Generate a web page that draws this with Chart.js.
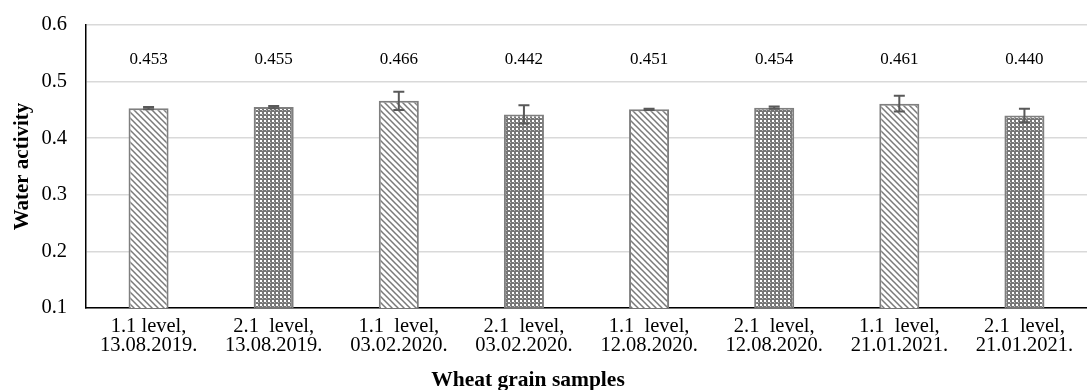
<!DOCTYPE html>
<html lang="en">
<head>
    <meta charset="UTF-8">
    <title>Water activity</title>
    <script src="https://cdn.jsdelivr.net/npm/chart.js"></script>
    <style>
        html, body { margin: 0; padding: 0; background: #fff; }
        #wrap { width: 1087px; height: 390px; }
    </style>
</head>
<body>
    <div id="wrap"><canvas id="waChart"></canvas></div>
    <script>
        // data
        const levels = ['1.1 level,', '2.1  level,', '1.1  level,', '2.1  level,', '1.1  level,', '2.1  level,', '1.1  level,', '2.1  level,'];
        const dates = ['13.08.2019.', '13.08.2019.', '03.02.2020.', '03.02.2020.', '12.08.2020.', '12.08.2020.', '21.01.2021.', '21.01.2021.'];
        const waterActivity = [0.453, 0.455, 0.466, 0.442, 0.451, 0.454, 0.461, 0.440];
        const errors = [0.002, 0.002, 0.016, 0.016, 0.001, 0.002, 0.014, 0.012];
        const yTicks = [0.1, 0.2, 0.3, 0.4, 0.5, 0.6];
        const xTitle = 'Wheat grain samples';

        const serif = '"Liberation Serif", "Times New Roman", serif';

        // hatch fills
        function stripes() {
            const c = document.createElement('canvas');
            c.width = 6; c.height = 6;
            const g = c.getContext('2d');
            g.fillStyle = '#fff';
            g.fillRect(0, 0, 6, 6);
            g.strokeStyle = '#7a7a7a';
            g.lineWidth = 1.5;
            g.beginPath();
            g.moveTo(-1, -1); g.lineTo(7, 7);
            g.moveTo(-4, 2); g.lineTo(4, 10);
            g.moveTo(2, -4); g.lineTo(10, 4);
            g.stroke();
            return g.createPattern(c, 'repeat');
        }
        function dots() {
            const c = document.createElement('canvas');
            c.width = 4; c.height = 4;
            const g = c.getContext('2d');
            g.fillStyle = '#777777';
            g.fillRect(0, 0, 4, 4);
            g.fillStyle = '#ffffff';
            g.fillRect(0, 0, 2, 2);
            g.fillStyle = '#b8b8b8';
            g.fillRect(2, 2, 1, 1);
            return g.createPattern(c, 'repeat');
        }
        const ctx = document.getElementById('waChart').getContext('2d');
        const fills = waterActivity.map((v, i) => i % 2 === 0 ? stripes() : dots());

        const extras = {
            id: 'extras',
            afterDatasetsDraw(chart) {
                const c = chart.ctx;
                const y = chart.scales.y;
                const meta = chart.getDatasetMeta(0);
                c.save();
                // error bars
                c.strokeStyle = '#595959';
                c.lineWidth = 2;
                meta.data.forEach((bar, i) => {
                    const top = y.getPixelForValue(waterActivity[i] + errors[i]);
                    const bot = y.getPixelForValue(waterActivity[i] - errors[i]);
                    c.beginPath();
                    c.moveTo(bar.x, top); c.lineTo(bar.x, bot);
                    c.moveTo(bar.x - 5.5, top); c.lineTo(bar.x + 5.5, top);
                    c.moveTo(bar.x - 5.5, bot); c.lineTo(bar.x + 5.5, bot);
                    c.stroke();
                });
                // value labels
                c.fillStyle = '#000';
                c.font = '17px ' + serif;
                c.textAlign = 'center';
                c.textBaseline = 'middle';
                meta.data.forEach((bar, i) => {
                    c.fillText(waterActivity[i].toFixed(3), bar.x, y.getPixelForValue(0.539));
                });
                // x axis title, centred on the whole chart like the original
                c.font = 'bold 21.5px ' + serif;
                c.fillText(xTitle, 528, 380);
                c.restore();
            }
        };

        new Chart(ctx, {
            type: 'bar',
            data: {
                labels: levels.map((l, i) => [l, dates[i]]),
                datasets: [{
                    data: waterActivity,
                    backgroundColor: fills,
                    borderColor: '#7f7f7f',
                    borderWidth: 2,
                    borderSkipped: false,
                    barPercentage: 0.32,
                    categoryPercentage: 1
                }]
            },
            options: {
                responsive: true,
                maintainAspectRatio: false,
                animation: false,
                layout: { padding: { top: 25, right: 0, left: 0, bottom: 0 } },
                plugins: { legend: { display: false }, tooltip: { enabled: false } },
                scales: {
                    x: {
                        grid: { display: false, drawTicks: false },
                        border: { color: '#000', width: 1.5 },
                        ticks: { color: '#000', font: { family: serif, size: 20.5, lineHeight: 0.93 }, padding: 9.5, maxRotation: 0, autoSkip: false },
                        afterFit: s => { s.height = 82; s.paddingLeft = 0; s.paddingRight = 0; }
                    },
                    y: {
                        min: 0.1,
                        max: 0.6,
                        afterBuildTicks: s => { s.ticks = yTicks.map(v => ({ value: v })); },
                        grid: { color: '#d9d9d9', lineWidth: 1.5, drawTicks: false },
                        border: { color: '#000', width: 1.5 },
                        ticks: { color: '#000', font: { family: serif, size: 20.5 }, padding: 19, callback: v => Number(v).toFixed(1) },
                        title: { display: true, text: 'Water activity', color: '#000', font: { family: serif, size: 21, weight: 'bold', lineHeight: 1.2 }, padding: { top: 10, bottom: 0 } },
                        afterFit: s => { s.width = 86; s.paddingTop = 0; s.paddingBottom = 0; }
                    }
                }
            },
            plugins: [extras]
        });
    </script>
</body>
</html>
